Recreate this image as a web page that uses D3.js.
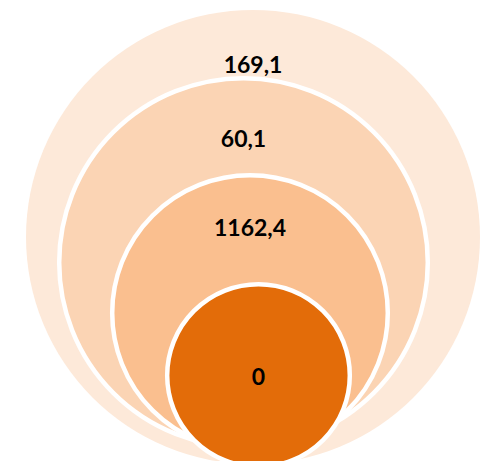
<!DOCTYPE html>
<html>
<head>
<meta charset="utf-8">
<script src="https://cdn.jsdelivr.net/npm/d3@7"></script>
<style>
  html, body { margin: 0; padding: 0; background: #ffffff; }
  svg { display: block; }
  .lbl { font-family: Lato, "Open Sans", sans-serif; font-weight: bold; font-size: 23px; fill: #000000; }
</style>
</head>
<body>
<svg></svg>
<script>
// Width and height
var svgWidth = 492;
var svgHeight = 461;

// Data: one value per ring, outermost first
var levels = ["outer", "second", "third", "inner"];
var values = [169.1, 60.1, 1162.4, 0];
var fills = ["#FDE9D9", "#FBD4B4", "#FABF8F", "#E36C09"];

// Layout of the nested circles (SmartArt style, sizes are not value driven)
var ringCx = [253, 243.5, 250, 258.5];
var ringCy = [237, 262.5, 313, 375.5];
var ringR = [227, 184.3, 137.8, 91.3];
var labelY = [73, 147, 236, 385];
var strokeW = 4.5;

var locale = d3.formatLocale({ decimal: ",", thousands: "", grouping: [3], currency: ["", ""] });
var fmt = function (v) {
    return v === Math.round(v) ? locale.format("d")(v) : locale.format(".1f")(v);
};

var svg = d3.select("svg")
    .attr("width", svgWidth)
    .attr("height", svgHeight);

var idx = d3.scaleOrdinal().domain(levels).range(d3.range(levels.length));
var color = d3.scaleOrdinal().domain(levels).range(fills);

var rings = levels.map(function (name, i) {
    return { name: name, value: values[i] };
});

svg.append("g")
    .attr("class", "rings")
    .selectAll("circle")
    .data(rings)
    .enter()
    .append("circle")
    .attr("cx", function (d) { return ringCx[idx(d.name)]; })
    .attr("cy", function (d) { return ringCy[idx(d.name)]; })
    .attr("r", function (d) { return ringR[idx(d.name)]; })
    .attr("fill", function (d) { return color(d.name); })
    .attr("stroke", function (d) { return idx(d.name) === 0 ? "none" : "#ffffff"; })
    .attr("stroke-width", strokeW);

svg.append("g")
    .attr("class", "labels")
    .selectAll("text")
    .data(rings)
    .enter()
    .append("text")
    .attr("class", "lbl")
    .attr("text-anchor", "middle")
    .attr("x", function (d) { return ringCx[idx(d.name)]; })
    .attr("y", function (d) { return labelY[idx(d.name)]; })
    .text(function (d) { return fmt(d.value); });
</script>
</body>
</html>
